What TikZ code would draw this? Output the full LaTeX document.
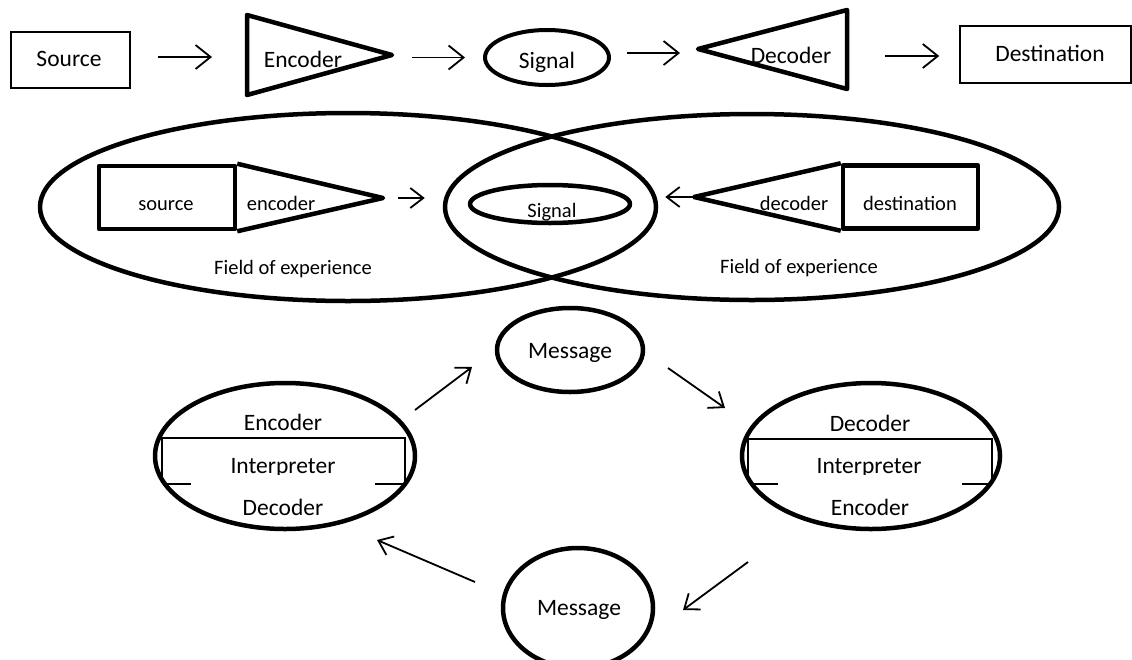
\documentclass[tikz,border=0pt]{standalone}
\usepackage{fontspec}
\setmainfont{Carlito}
\usetikzlibrary{arrows.meta,shapes.geometric}

\tikzset{
  box/.style={draw, rectangle, inner sep=0pt},
  oval/.style={draw, ellipse, inner sep=0pt},
  heavy/.style={line width=4.5pt, line join=round},
  lite/.style={line width=1.6pt},
  arr/.style={line width=1.8pt, -{Straight Barb[length=15pt, width=24pt]}},
  sarr/.style={line width=1.8pt, -{Straight Barb[length=13pt, width=20pt]}},
  txt/.style={anchor=base, inner sep=0pt, font=\fontsize{23.5}{28}\selectfont},
  stxt/.style={anchor=base, inner sep=0pt, font=\fontsize{20.5}{24}\selectfont},
}

\begin{document}
\begin{tikzpicture}[x=1pt, y=-1pt]
  \useasboundingbox (0,0) rectangle (1132,659);

  % linear model
  \node[box, lite, minimum width=119pt, minimum height=56pt] (src) at (70.5,60) {};
  \node[txt] (srct) at (69,66) {Source};
  \coordinate (encl) at (247,57);
  \coordinate (enct) at (392,55);
  \draw[heavy] (247,15) -- (enct) -- (247,95) -- cycle;
  \node[txt] (encx) at (303,67) {Encoder};
  \node[oval, heavy, line width=4pt, minimum width=124pt, minimum height=55pt] (sig) at (547,57.5) {};
  \node[txt] (sigt) at (547,68) {Signal};
  \coordinate (dect) at (698,49);
  \coordinate (decr) at (847,56);
  \draw[heavy] (dect) -- (847,10) -- (847,89) -- cycle;
  \node[txt] (decx) at (791,63) {Decoder};
  \node[box, lite, minimum width=171pt, minimum height=57pt] (dst) at (1045.5,54.5) {};
  \node[txt] (dstt) at (1050,61) {Destination};

  \draw[arr, shorten <=27pt, shorten >=35pt] (src.east |- encl) -- (encl);
  \draw[arr, shorten <=20pt, shorten >=18pt] (enct |- sig.west) -- (sig.west);
  \draw[arr, shorten <=16pt, shorten >=18pt] (sig.east |- 0,53) -- (dect |- 0,53);
  \draw[arr, shorten <=38pt, shorten >=20pt] (decr) -- (dst.west |- decr);

  % shared field of experience
  \node[oval, heavy, minimum width=616pt, minimum height=188pt] (fexl) at (348,207) {};
  \node[oval, heavy, minimum width=614pt, minimum height=186pt] (fexr) at (752,207) {};
  \node[stxt] (fexlt) at (293,274) {Field of experience};
  \node[stxt] (fexrt) at (799,273) {Field of experience};

  \node[box, heavy, minimum width=136pt, minimum height=63pt] (msrc) at (167,197.5) {};
  \coordinate (menct) at (383,198);
  \draw[heavy] (msrc.north east) -- (menct) -- (msrc.south east);
  \node[stxt] (msrct) at (166,210) {source};
  \node[stxt] (menc) at (281,210) {encoder};

  \node[oval, heavy, minimum width=160pt, minimum height=38pt] (msig) at (550,204) {};
  \node[stxt] (msigt) at (552,217) {Signal};

  \node[box, heavy, minimum width=135pt, minimum height=63pt] (mdst) at (910.5,197) {};
  \coordinate (mdect) at (694,197);
  \draw[heavy] (mdst.north west) -- (mdect) -- (mdst.south west);
  \node[stxt] (mdec) at (794,210) {decoder};
  \node[stxt] (mdstt) at (910,210) {destination};

  \draw[sarr, shorten <=15pt, shorten >=43pt] (menct) -- (msig.west |- menct);
  \draw[sarr, shorten >=33pt] (mdect) -- (msig.east |- mdect);

  % circular model
  \node[oval, heavy, minimum width=260pt, minimum height=146pt] (lpart) at (285,456) {};
  \node[oval, heavy, minimum width=258pt, minimum height=146pt] (rpart) at (871,456) {};
  \node[oval, heavy, minimum width=146pt, minimum height=84pt] (msga) at (570,350) {};
  \node[oval, heavy, minimum width=150pt, minimum height=120pt] (msgb) at (578,608) {};
  \node[txt] (msgat) at (570,358) {Message};
  \node[txt] (msgbt) at (579,615) {Message};

  \node[txt] (lenc) at (283,430) {Encoder};
  \node[txt] (ldec) at (283,515) {Decoder};
  \draw[lite] (162,483) -- (162,438) -- (405,438) -- (405,483);
  \draw[lite] (167,484) -- (191,484) (375,484) -- (403,484);
  \begin{scope}
    \clip (150,440) rectangle (420,474.5);
    \node[txt] (lint) at (283,473) {Interpreter};
  \end{scope}

  \node[txt] (rdec) at (870,431) {Decoder};
  \node[txt] (renc) at (870,515) {Encoder};
  \draw[lite] (748,480) -- (748,439) -- (992,439) -- (992,480);
  \draw[lite] (753,484) -- (778,484) (962,484) -- (990,484);
  \begin{scope}
    \clip (740,441) rectangle (1000,474.5);
    \node[txt] (rint) at (869,473) {Interpreter};
  \end{scope}

  \coordinate (c1a) at (415,410);
  \coordinate (c1b) at (472,367);
  \coordinate (c2a) at (668,368);
  \coordinate (c2b) at (725,408);
  \coordinate (c3a) at (748,562);
  \coordinate (c3b) at (683,610);
  \coordinate (c4a) at (475,582);
  \coordinate (c4b) at (377,540);
  \draw[sarr] (c1a) -- (c1b);
  \draw[sarr] (c2a) -- (c2b);
  \draw[sarr] (c3a) -- (c3b);
  \draw[sarr] (c4a) -- (c4b);
\end{tikzpicture}
\end{document}
